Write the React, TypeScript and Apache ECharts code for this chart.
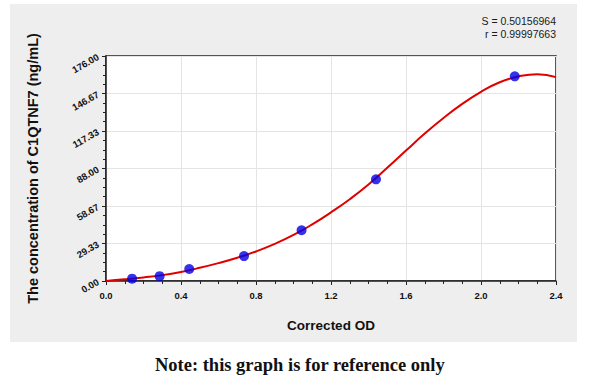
import React, { useEffect, useRef } from "react";
import * as echarts from "echarts";

const pointOD = [0.139, 0.286, 0.444, 0.736, 1.043, 1.44, 2.18];
const pointConc = [1.8, 3.8, 9.4, 19.5, 39.7, 79.5, 160.1];

const curveOD = [0, 0.1, 0.2, 0.3, 0.4, 0.5, 0.6, 0.7, 0.8, 0.9, 1.0, 1.1, 1.2, 1.3, 1.4, 1.5, 1.6, 1.7, 1.8, 1.9, 2.0, 2.1, 2.2, 2.3, 2.4];
const curveConc = [0, 1.3, 2.8, 4.6, 7.1, 10.3, 14, 18.2, 23.1, 29, 36, 44.3, 53.7, 64, 75.5, 88.5, 102, 115.3, 127.5, 138.5, 148, 155.5, 160, 161.8, 159.5];

const yTicks = ["0.00", "29.33", "58.67", "88.00", "117.33", "146.67", "176.00"];
const xMax = 2.4;
const yMax = 176;

const statS = "S = 0.50156964";
const statR = "r = 0.99997663";

export default function App() {
  const ref = useRef<HTMLDivElement>(null);
  useEffect(() => {
    if (!ref.current) return;
    const chart = echarts.init(ref.current, null, { renderer: "svg" });
    const font = "'Liberation Sans', Arial, sans-serif";
    chart.setOption({
      animation: false,
      backgroundColor: "#ffffff",
      graphic: [
        {
          type: "rect",
          z: -10,
          silent: true,
          shape: { x: 10, y: 4, width: 567, height: 338 },
          style: { fill: "#eeeeee" },
        },
        {
          type: "text",
          right: 44,
          top: 15,
          style: { text: statS, font: `10.5px ${font}`, fill: "#1a1a1a", textAlign: "right" },
        },
        {
          type: "text",
          right: 44,
          top: 28,
          style: { text: statR, font: `10.5px ${font}`, fill: "#1a1a1a", textAlign: "right" },
        },
        {
          type: "text",
          left: "center",
          top: 355,
          style: {
            text: "Note: this graph is for reference only",
            font: `bold 18.5px 'Liberation Serif', 'DejaVu Serif', serif`,
            fill: "#111",
          },
        },
      ],
      grid: {
        left: 106,
        right: 44,
        top: 56,
        bottom: 104,
        show: true,
        backgroundColor: "#ffffff",
        borderColor: "#222",
        borderWidth: 1.5,
      },
      xAxis: {
        type: "value",
        min: 0,
        max: xMax,
        interval: 0.4,
        name: "Corrected OD",
        nameLocation: "middle",
        nameGap: 37,
        nameTextStyle: { fontFamily: font, fontSize: 13.5, fontWeight: "bold", color: "#111" },
        axisLine: { show: true, onZero: false, lineStyle: { color: "#222", width: 1.5 } },
        axisTick: { show: true, inside: false, length: 4, lineStyle: { color: "#222" } },
        minorTick: { show: true, splitNumber: 4, length: 3, lineStyle: { color: "#222" } },
        axisLabel: {
          fontFamily: font,
          fontSize: 9.5,
          fontWeight: "bold",
          color: "#111",
          margin: 9,
          formatter: (v: number) => v.toFixed(1),
        },
        splitLine: { show: true, lineStyle: { color: "#e4e4e4", width: 1 } },
      },
      yAxis: {
        type: "value",
        min: 0,
        max: yMax,
        interval: yMax / 6,
        name: "The concentration of C1QTNF7 (ng/mL)",
        nameLocation: "middle",
        nameGap: 66,
        nameTextStyle: { fontFamily: font, fontSize: 14.5, fontWeight: "bold", color: "#111" },
        axisLine: { show: true, onZero: false, lineStyle: { color: "#222", width: 1.5 } },
        axisTick: { show: true, inside: false, length: 4, lineStyle: { color: "#222" } },
        minorTick: { show: true, splitNumber: 4, length: 3, lineStyle: { color: "#222" } },
        axisLabel: {
          fontFamily: font,
          fontSize: 9.5,
          fontWeight: "bold",
          color: "#111",
          rotate: 30,
          margin: 8,
          formatter: (v: number) => yTicks[Math.round(v / (yMax / 6))] ?? "",
        },
        splitLine: { show: true, lineStyle: { color: "#e4e4e4", width: 1 } },
      },
      series: [
        {
          type: "line",
          data: curveOD.map((x, i) => [x, curveConc[i]]),
          smooth: 0.5,
          showSymbol: false,
          lineStyle: { color: "#e00000", width: 2 },
          z: 2,
        },
        {
          type: "scatter",
          data: pointOD.map((x, i) => [x, pointConc[i]]),
          symbol: "circle",
          symbolSize: 10,
          itemStyle: { color: "#0000e6" },
          z: 3,
        },
      ],
    });
    return () => chart.dispose();
  }, []);
  return (
    <div
      ref={ref}
      style={{ position: "fixed", left: 0, top: 0, width: 600, height: 385 }}
    />
  );
}
